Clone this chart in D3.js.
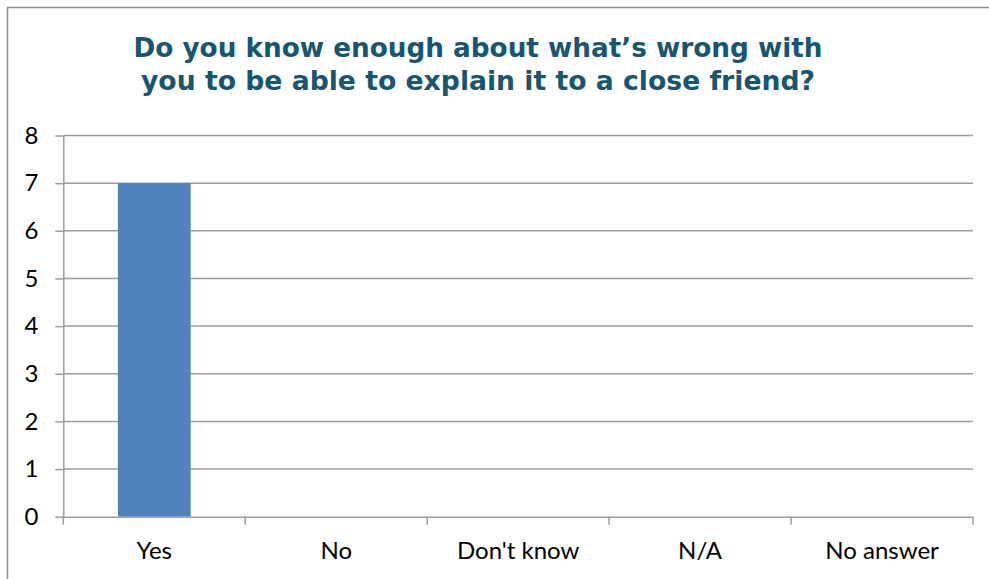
<!DOCTYPE html>
<html><head><meta charset="utf-8">
<script src="https://cdn.jsdelivr.net/npm/d3@7"></script>
<style>body{margin:0;background:#fff}svg{display:block}</style>
</head><body>
<script>
const categories = ["Yes", "No", "Don't know", "N/A", "No answer"];
const values = [7, 0, 0, 0, 0];
const yTicks = [0, 1, 2, 3, 4, 5, 6, 7, 8];
const titleLines = ["Do you know enough about what\u2019s wrong with", "you to be able to explain it to a close friend?"];

(function(){
const W = 989, H = 579;
const svg = d3.select("body").append("svg").attr("width", W).attr("height", H);

// outer border (top & left visible; extends beyond right/bottom)
svg.append("path").attr("d", `M7.5,${H+5}V7.5H${W+5}`).attr("fill","none")
  .attr("stroke","#8c8c8c").attr("stroke-width",1.5);

const pL = 63.3, pR = 973, pT = 135.5, pB = 516.7;
const x = d3.scaleBand().domain(categories).range([pL, pR]).paddingInner(0.6).paddingOuter(0.3);
const xb = d3.scaleBand().domain(categories).range([pL, pR]);
const y = d3.scaleLinear().domain([0, 8]).range([pB, pT]);

// gridlines
svg.append("g").selectAll("line").data(yTicks.filter(d=>d>0)).join("line")
  .attr("x1", pL).attr("x2", pR).attr("y1", d=>y(d)).attr("y2", d=>y(d))
  .attr("stroke","#9e9e9e").attr("stroke-width",1.5);

// bars
svg.append("g").selectAll("rect").data(categories).join("rect")
  .attr("x", d=>x(d)).attr("width", x.bandwidth())
  .attr("y", (d,i)=>y(values[i])).attr("height", (d,i)=>y(0)-y(values[i]))
  .attr("fill","#4f81bd");

// y axis
const yAxis = svg.append("g").attr("transform",`translate(${pL},0)`)
  .call(d3.axisLeft(y).tickValues(yTicks).tickSize(8).tickPadding(17).tickSizeOuter(0));
yAxis.select(".domain").attr("stroke","#9e9e9e").attr("stroke-width",1.5);
yAxis.selectAll(".tick line").attr("stroke","#9e9e9e").attr("stroke-width",1.5);
yAxis.selectAll("text").attr("font-family","Lato, 'Open Sans', sans-serif").attr("font-size",24).attr("fill","#000");

// x axis
const xAxis = svg.append("g").attr("transform",`translate(0,${pB})`)
  .call(d3.axisBottom(xb).tickSize(0).tickPadding(25));
xAxis.select(".domain").attr("stroke","#9e9e9e").attr("stroke-width",1.5);
xAxis.selectAll("text").attr("font-family","Lato, 'Open Sans', sans-serif").attr("font-size",24).attr("fill","#000");
// boundary ticks
const bounds = categories.map(c=>xb(c)).concat([pR]);
svg.append("g").selectAll("line").data(bounds).join("line")
  .attr("x1",d=>d).attr("x2",d=>d).attr("y1",pB).attr("y2",pB+8)
  .attr("stroke","#9e9e9e").attr("stroke-width",1.5);

// title
const tw = [689, 674];
svg.append("g").selectAll("text").data(titleLines).join("text")
  .attr("x", 478).attr("y",(d,i)=>57+i*33).attr("text-anchor","middle")
  .attr("font-family","'DejaVu Sans Condensed','DejaVu Sans',sans-serif").attr("font-weight","bold")
  .attr("font-size",27).attr("fill","#175670")
  .attr("textLength",(d,i)=>tw[i]).attr("lengthAdjust","spacingAndGlyphs")
  .text(d=>d);
})();
</script>
</body></html>
